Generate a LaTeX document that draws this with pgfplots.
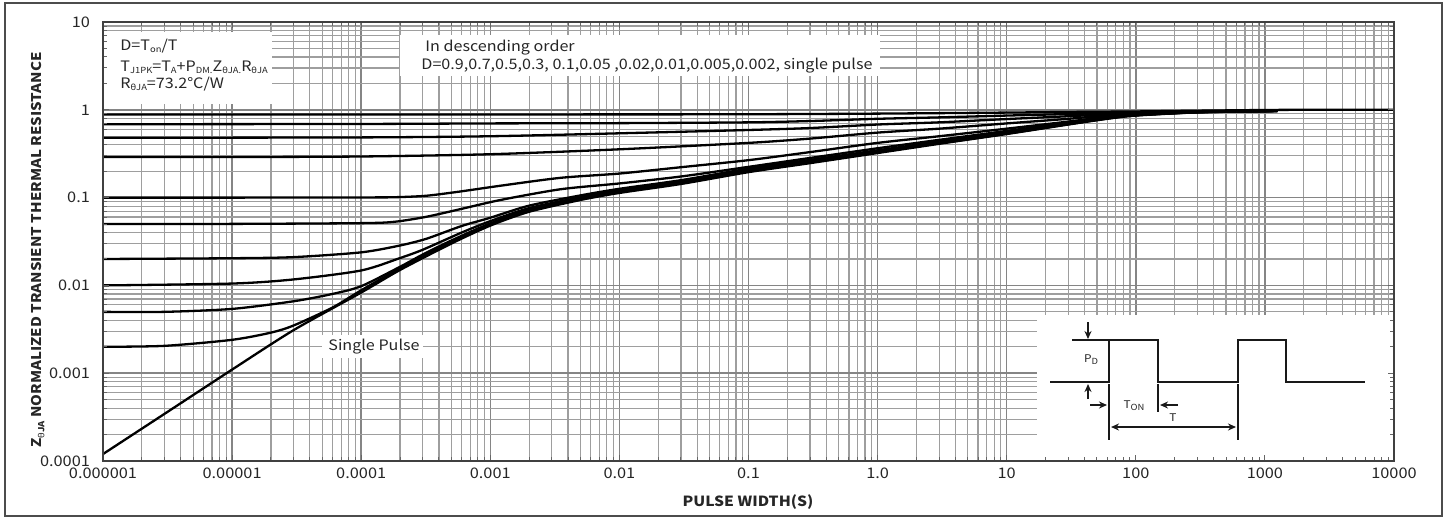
\documentclass[border=0pt]{standalone}
\usepackage{fontspec}
\setmainfont[FakeStretch=1.12]{Noto Sans CJK SC}
\newfontfamily\grk[FakeStretch=1.12]{Noto Sans}
\usepackage{pgfplots}
\pgfplotsset{compat=1.18}
\usetikzlibrary{arrows.meta}

\newcommand{\thja}{{\grk θ}JA}
\newcommand{\sub}[1]{\raisebox{-0.35ex}{\fontsize{4.2}{4.2}\selectfont #1}}

\pgfplotsset{
  zcurve/.style={black, line width=1.15pt, smooth, tension=0.45, no markers},
}

\begin{document}
\begin{tikzpicture}
\useasboundingbox (0,0) rectangle (725pt,-260.5pt);

% grid and curves
\begin{axis}[
  at={(51.5pt,-230.5pt)}, anchor=south west,
  width=645.5pt, height=219.5pt, scale only axis,
  xmode=log, ymode=log,
  xmin=1e-6, xmax=1e4, ymin=1e-4, ymax=10,
  xtick={1e-6,1e-5,1e-4,1e-3,1e-2,1e-1,1,10,100,1000,10000},
  ytick={1e-4,1e-3,1e-2,1e-1,1,10},
  minor xtick={2e-6,3e-6,4e-6,5e-6,6e-6,7e-6,8e-6,9e-6,
               2e-5,3e-5,4e-5,5e-5,6e-5,7e-5,8e-5,9e-5,
               2e-4,3e-4,4e-4,5e-4,6e-4,7e-4,8e-4,9e-4,
               2e-3,3e-3,4e-3,5e-3,6e-3,7e-3,8e-3,9e-3,
               0.02,0.03,0.04,0.05,0.06,0.07,0.08,0.09,
               0.2,0.3,0.4,0.5,0.6,0.7,0.8,0.9,
               2,3,4,5,6,7,8,9,
               20,30,40,50,60,70,80,90,
               200,300,400,500,600,700,800,900,
               2000,3000,4000,5000,6000,7000,8000,9000},
  minor ytick={2e-4,3e-4,4e-4,5e-4,6e-4,7e-4,8e-4,9e-4,
               2e-3,3e-3,4e-3,5e-3,6e-3,7e-3,8e-3,9e-3,
               0.02,0.03,0.04,0.05,0.06,0.07,0.08,0.09,
               0.2,0.3,0.4,0.5,0.6,0.7,0.8,0.9,
               2,3,4,5,6,7,8,9},
  grid=both,
  major grid style={black!48, line width=0.75pt},
  minor grid style={black!38, line width=0.6pt},
  axis line style={draw=none},
  tick style={draw=none},
  xticklabels={}, yticklabels={},
  clip=true]
% D = 0.9
\addplot[zcurve] coordinates {(1e-6,0.885) (1e-4,0.885) (1e-2,0.887) (0.1,0.89) (1,0.905) (10,0.93) (30,0.945) (100,0.958) (300,0.977) (1000,0.995) (2000,1.0) (10000,1.0)};
% D = 0.7
\addplot[zcurve] coordinates {(1e-6,0.685) (1e-4,0.69) (1e-3,0.70) (1e-2,0.705) (0.1,0.72) (0.3,0.745) (1,0.79) (3,0.82) (10,0.86) (30,0.895) (60,0.92) (100,0.935) (300,0.962) (1000,0.975) (1250,0.98)};
% D = 0.5
\addplot[zcurve] coordinates {(1e-6,0.48) (1e-4,0.485) (1e-3,0.50) (1e-2,0.54) (0.1,0.589) (0.3,0.62) (1,0.68) (3,0.72) (10,0.785) (30,0.845) (60,0.89) (100,0.92) (300,0.957) (1000,0.972) (1250,0.977)};
% D = 0.3
\addplot[zcurve] coordinates {(1e-6,0.29) (1e-5,0.29) (1e-4,0.294) (1e-3,0.312) (1e-2,0.355) (0.1,0.42) (0.3,0.47) (1,0.55) (3,0.61) (10,0.70) (30,0.79) (60,0.865) (100,0.905) (300,0.952) (1000,0.97) (1250,0.975)};
% D = 0.1
\addplot[zcurve] coordinates {(1e-6,0.100) (1e-5,0.100) (1e-4,0.1005) (1.8e-4,0.101) (3.2e-4,0.105) (6e-4,0.118) (1.2e-3,0.1366) (3.5e-3,0.168) (1e-2,0.188) (3e-2,0.222) (0.1,0.267) (0.3,0.33) (1,0.42) (3,0.50) (10,0.61) (30,0.735) (60,0.835) (100,0.89) (300,0.947) (1000,0.968) (1250,0.972)};
% D = 0.05
\addplot[zcurve] coordinates {(1e-6,0.050) (1e-5,0.0502) (1e-4,0.0512) (1.8e-4,0.053) (3.2e-4,0.0605) (6e-4,0.0745) (1.2e-3,0.094) (3.5e-3,0.1245) (1e-2,0.145) (3e-2,0.174) (0.1,0.224) (0.3,0.283) (1,0.365) (3,0.455) (10,0.575) (30,0.715) (60,0.82) (100,0.882) (300,0.944) (1000,0.967) (1250,0.97)};
% D = 0.02
\addplot[zcurve] coordinates {(1e-6,0.0200) (1e-5,0.0204) (3e-5,0.021) (1e-4,0.0238) (2e-4,0.0285) (3.2e-4,0.034) (6e-4,0.0475) (1e-3,0.059) (2e-3,0.081) (5e-3,0.106) (1e-2,0.126) (3e-2,0.158) (0.1,0.214) (0.3,0.269) (1,0.346) (3,0.435) (10,0.555) (30,0.70) (60,0.81) (100,0.876) (300,0.942) (1000,0.966) (1250,0.97)};
% D = 0.01
\addplot[zcurve] coordinates {(1e-6,0.0100) (1e-5,0.0105) (3e-5,0.0117) (1e-4,0.0148) (2e-4,0.0205) (3e-4,0.0255) (6e-4,0.040) (1e-3,0.054) (2e-3,0.076) (5e-3,0.101) (1e-2,0.121) (3e-2,0.153) (0.1,0.208) (0.3,0.262) (1,0.338) (3,0.427) (10,0.547) (30,0.695) (60,0.805) (100,0.872) (300,0.94) (1000,0.965) (1250,0.97)};
% D = 0.005
\addplot[zcurve] coordinates {(1e-6,0.0050) (3e-6,0.0050) (1e-5,0.0054) (3e-5,0.0066) (6e-5,0.0080) (1e-4,0.0098) (2e-4,0.0163) (3e-4,0.0225) (5e-4,0.0325) (1e-3,0.051) (2e-3,0.073) (5e-3,0.098) (1e-2,0.118) (3e-2,0.149) (0.1,0.203) (0.3,0.256) (1,0.332) (3,0.42) (10,0.54) (30,0.69) (60,0.80) (100,0.868) (300,0.938) (1000,0.964) (1250,0.97)};
% D = 0.002
\addplot[zcurve] coordinates {(1e-6,0.0020) (3e-6,0.00205) (1e-5,0.0024) (2e-5,0.0029) (3e-5,0.0035) (6e-5,0.0056) (1e-4,0.0088) (2e-4,0.0156) (5e-4,0.031) (1e-3,0.0495) (2e-3,0.071) (5e-3,0.096) (1e-2,0.1155) (3e-2,0.146) (0.1,0.199) (0.3,0.251) (1,0.327) (3,0.415) (10,0.535) (30,0.685) (60,0.795) (100,0.865) (300,0.937) (1000,0.963) (1250,0.97)};
% single pulse
\addplot[zcurve] coordinates {(1e-6,0.00012) (3e-6,0.000345) (1e-5,0.0011) (3e-5,0.0031) (1e-4,0.0083) (2e-4,0.0150) (5e-4,0.030) (1e-3,0.048) (2e-3,0.069) (5e-3,0.094) (1e-2,0.113) (3e-2,0.143) (0.1,0.195) (0.3,0.247) (1,0.322) (3,0.41) (10,0.53) (30,0.68) (60,0.79) (100,0.86) (300,0.935) (1000,0.962) (1250,0.97)};
\end{axis}

% pixel-based layer for annotation panels
\begin{scope}[x=0.5pt, y=-0.5pt]
  \fill[white] (104,32) rectangle (272,104);
  \fill[white] (400,35) rectangle (880,76);
  \fill[white] (322,335) rectangle (423,358);
  \fill[white] (1037,315) rectangle (1393,460);
\end{scope}

% frame, ticks and tick labels
\begin{axis}[
  at={(51.5pt,-230.5pt)}, anchor=south west,
  width=645.5pt, height=219.5pt, scale only axis,
  xmode=log, ymode=log,
  xmin=1e-6, xmax=1e4, ymin=1e-4, ymax=10,
  xtick={1e-6,1e-5,1e-4,1e-3,1e-2,1e-1,1,10,100,1000,10000},
  ytick={1e-4,1e-3,1e-2,1e-1,1,10},
  minor xtick={2e-6,3e-6,4e-6,5e-6,6e-6,7e-6,8e-6,9e-6,
               2e-5,3e-5,4e-5,5e-5,6e-5,7e-5,8e-5,9e-5,
               2e-4,3e-4,4e-4,5e-4,6e-4,7e-4,8e-4,9e-4,
               2e-3,3e-3,4e-3,5e-3,6e-3,7e-3,8e-3,9e-3,
               0.02,0.03,0.04,0.05,0.06,0.07,0.08,0.09,
               0.2,0.3,0.4,0.5,0.6,0.7,0.8,0.9,
               2,3,4,5,6,7,8,9,
               20,30,40,50,60,70,80,90,
               200,300,400,500,600,700,800,900,
               2000,3000,4000,5000,6000,7000,8000,9000},
  minor ytick={2e-4,3e-4,4e-4,5e-4,6e-4,7e-4,8e-4,9e-4,
               2e-3,3e-3,4e-3,5e-3,6e-3,7e-3,8e-3,9e-3,
               0.02,0.03,0.04,0.05,0.06,0.07,0.08,0.09,
               0.2,0.3,0.4,0.5,0.6,0.7,0.8,0.9,
               2,3,4,5,6,7,8,9},
  axis line style={black!75, line width=0.9pt},
  major tick length=3pt, minor tick length=2pt,
  tick style={black!60, line width=0.5pt},
  xticklabels={0.000001,0.00001,0.0001,0.001,0.01,0.1,1.0,10,100,1000,10000},
  yticklabels={0.0001,0.001,0.01,0.1,1,10},
  xticklabel style={font=\fontsize{7.3}{8.5}\selectfont, text=black!85},
  yticklabel style={font=\fontsize{7.3}{8.5}\selectfont, text=black!85, xshift=-3pt},
  /pgf/number format/assume math mode=true]
\end{axis}

\begin{scope}[x=0.5pt, y=-0.5pt]
  % outer frame
  \draw[black!70, line width=0.8pt] (5,3) rectangle (1442,516);

  % axis titles
  \node[rotate=90, font=\fontsize{6.7}{8}\selectfont\bfseries, text=black!85]
    at (38,250) {Z\sub{\thja} NORMALIZED TRANSIENT THERMAL RESISTANCE};
  \node[font=\fontsize{7}{8}\selectfont\bfseries, text=black!85]
    at (748,502) {PULSE WIDTH(S)};

  % formula panel and notes
  \begin{scope}[every node/.style={anchor=base west, inner sep=0pt,
      font=\fontsize{7.2}{8.5}\selectfont, text=black!85}]
    \node at (120,50) {D=T\sub{on}/T};
    \node at (120,71) {T\sub{J1PK}=T\sub{A}+P\sub{DM.}Z\sub{\thja.}R\sub{\thja}};
    \node at (120,88) {R\sub{\thja}=73.2°C/W};
    \node at (425,51) {In descending order};
    \node at (421,69) {D=0.9,0.7,0.5,0.3, 0.1,0.05 ,0.02,0.01,0.005,0.002, single pulse};
    \node at (328,350) {Single Pulse};
  \end{scope}

  % pulse train sketch
  \begin{scope}[black!90, line width=1pt]
    \draw (1050,382) -- (1109,382) -- (1109,340) -- (1158,340) -- (1158,382)
          -- (1238,382) -- (1238,340) -- (1286,340) -- (1286,382) -- (1365,382);
    \draw (1072,340) -- (1109,340);
    \draw[-{Stealth[length=4pt,width=3.5pt]}] (1088,322) -- (1088,339);
    \draw[-{Stealth[length=4pt,width=3.5pt]}] (1088,399) -- (1088,384);
    \draw (1109,384) -- (1109,440);
    \draw (1158,384) -- (1158,412);
    \draw (1238,384) -- (1238,440);
    \draw[-{Stealth[length=4pt,width=3.5pt]}] (1090,405) -- (1107,405);
    \draw[-{Stealth[length=4pt,width=3.5pt]}] (1178,405) -- (1160,405);
    \draw[{Stealth[length=4pt,width=3.5pt]}-{Stealth[length=4pt,width=3.5pt]}] (1111,427) -- (1236,427);
  \end{scope}
  \begin{scope}[every node/.style={inner sep=0pt, font=\fontsize{5.3}{6}\selectfont, text=black!85}]
    \node at (1091,360) {P\sub{D}};
    \node at (1134,406) {T\sub{ON}};
    \node at (1173,418) {T};
  \end{scope}
\end{scope}
\end{tikzpicture}
\end{document}
